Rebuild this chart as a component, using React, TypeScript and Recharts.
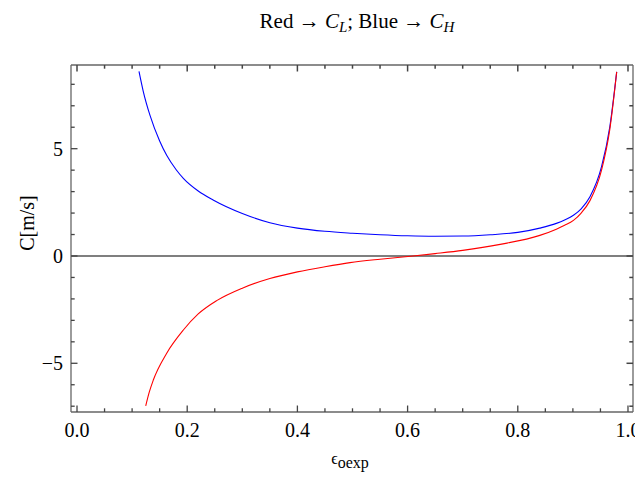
import React from "react";
import { LineChart, Line, XAxis, YAxis, ReferenceLine } from "recharts";

// values
const blueEps = [0.1125, 0.12, 0.1325, 0.15, 0.163, 0.18, 0.193, 0.22, 0.247, 0.3, 0.35, 0.4, 0.45, 0.5, 0.55, 0.6, 0.65, 0.7, 0.75, 0.8, 0.84, 0.87, 0.885, 0.901, 0.915, 0.931, 0.952, 0.967, 0.9795];
const blueC = [8.6, 7.7, 6.55, 5.36, 4.68, 4.02, 3.62, 3.03, 2.61, 1.98, 1.55, 1.3, 1.15, 1.06, 0.99, 0.94, 0.92, 0.93, 0.99, 1.1, 1.3, 1.52, 1.68, 1.9, 2.2, 2.76, 4.16, 6.02, 8.58];

const redEps = [0.1247, 0.131, 0.1385, 0.1628, 0.193, 0.22, 0.2535, 0.3, 0.35, 0.4, 0.45, 0.4955, 0.55, 0.61, 0.65, 0.7, 0.768, 0.84, 0.87, 0.885, 0.901, 0.915, 0.931, 0.952, 0.967, 0.9795];
const redC = [-6.99, -6.36, -5.78, -4.53, -3.45, -2.7, -2.08, -1.5, -1.05, -0.74, -0.5, -0.31, -0.15, 0.0, 0.11, 0.26, 0.54, 0.96, 1.25, 1.43, 1.66, 2.0, 2.58, 4.0, 5.9, 8.58];

const xTicks = [0, 0.05, 0.1, 0.15, 0.2, 0.25, 0.3, 0.35, 0.4, 0.45, 0.5, 0.55, 0.6, 0.65, 0.7, 0.75, 0.8, 0.85, 0.9, 0.95, 1];
const xMajor = [0, 0.2, 0.4, 0.6, 0.8, 1];
const yTicks = [-7, -6, -5, -4, -3, -2, -1, 0, 1, 2, 3, 4, 5, 6, 7, 8];
const yMajor = [-5, 0, 5];

const blueData = blueEps.map((e, i) => ({ eps: e, c: blueC[i] }));
const redData = redEps.map((e, i) => ({ eps: e, c: redC[i] }));

const W = 635;
const H = 477;
const M = { top: 64, right: 1, bottom: 0, left: 0 };
const X_AXIS_H = 65;
const Y_AXIS_W = 71;
// plot box size, used to mirror the frame ticks onto the top and right edges
const PLOT_H = H - M.top - 1 - X_AXIS_H;
const PLOT_W = W - Y_AXIS_W - M.right - 1;

const FRAME = "#666";
const TICK = "#444";
const FONT = "'Liberation Serif', 'Times New Roman', serif";
const MAJ = 6.5;
const MIN = 3.7;

const isMajor = (list: number[], v: number) => list.some((m) => Math.abs(m - v) < 1e-6);

function BottomTick(props: any) {
  const { x, y, payload } = props;
  const major = isMajor(xMajor, payload.value);
  const len = major ? MAJ : MIN;
  const top = Number(y) - PLOT_H;
  return (
    <g>
      <path d={`M${x},${y}V${Number(y) - len}`} stroke={TICK} strokeWidth={1.3} />
      <path d={`M${x},${top}V${top + len}`} stroke={TICK} strokeWidth={1.5} />
      {major && (
        <text x={x} y={Number(y) + 25} textAnchor="middle" fontFamily={FONT} fontSize={20} fill="#000">
          {payload.value.toFixed(1)}
        </text>
      )}
    </g>
  );
}

function LeftTick(props: any) {
  const { x, y, payload } = props;
  const major = isMajor(yMajor, payload.value);
  const len = major ? MAJ : MIN;
  const right = Number(x) + PLOT_W;
  const label = payload.value < 0 ? "\u2212" + Math.abs(payload.value) : String(payload.value);
  return (
    <g>
      <path d={`M${x},${y}H${Number(x) + len}`} stroke={TICK} strokeWidth={1.3} />
      <path d={`M${right},${y}H${right - len}`} stroke={TICK} strokeWidth={1.5} />
      {major && (
        <text x={Number(x) - 8} y={Number(y) + 7} textAnchor="end" fontFamily={FONT} fontSize={20} fill="#000">
          {label}
        </text>
      )}
    </g>
  );
}

export default function App() {
  const xDomain = [-0.0109, 1.0091];
  const yDomain = [-7.27, 8.9];
  const axisLine = { stroke: FRAME, strokeWidth: 1.3 };
  return (
    <div style={{ position: "absolute", left: 0, top: 0, width: W, height: H, background: "#fff" }}>
      <LineChart width={W} height={H} margin={M}>
        <XAxis
          xAxisId="b"
          type="number"
          dataKey="eps"
          domain={xDomain}
          ticks={xTicks}
          interval={0}
          allowDataOverflow
          height={X_AXIS_H}
          tickSize={0}
          tickMargin={0}
          tickLine={false}
          axisLine={axisLine}
          tick={<BottomTick />}
        />
        <XAxis
          xAxisId="t"
          orientation="top"
          type="number"
          dataKey="eps"
          domain={xDomain}
          allowDataOverflow
          height={1}
          tickLine={false}
          axisLine={axisLine}
          tick={false}
        />
        <YAxis
          yAxisId="l"
          type="number"
          domain={yDomain}
          ticks={yTicks}
          interval={0}
          allowDataOverflow
          width={Y_AXIS_W}
          tickSize={0}
          tickMargin={0}
          tickLine={false}
          axisLine={axisLine}
          tick={<LeftTick />}
        />
        <YAxis
          yAxisId="r"
          orientation="right"
          type="number"
          domain={yDomain}
          allowDataOverflow
          width={1}
          tickLine={false}
          axisLine={axisLine}
          tick={false}
        />
        <ReferenceLine xAxisId="b" yAxisId="l" y={0} stroke="#555" strokeWidth={1.6} />
        {/* invisible series so the top and right frame axes get drawn */}
        <Line
          xAxisId="t"
          yAxisId="r"
          data={redData}
          dataKey="c"
          stroke="none"
          dot={false}
          activeDot={false}
          isAnimationActive={false}
        />
        <Line
          xAxisId="b"
          yAxisId="l"
          data={blueData}
          dataKey="c"
          type="monotone"
          stroke="#0000ff"
          strokeWidth={1.1}
          dot={false}
          isAnimationActive={false}
        />
        <Line
          xAxisId="b"
          yAxisId="l"
          data={redData}
          dataKey="c"
          type="monotone"
          stroke="#ff0000"
          strokeWidth={1.1}
          dot={false}
          isAnimationActive={false}
        />
      </LineChart>
      <svg
        width={W}
        height={H}
        style={{ position: "absolute", left: 0, top: 0, pointerEvents: "none" }}
        fontFamily={FONT}
      >
        <text x={357} y={28} textAnchor="middle" fontSize={21} fill="#000">
          <tspan>Red → </tspan>
          <tspan fontStyle="italic">C</tspan>
          <tspan fontStyle="italic" fontSize={15} dy={4}>L</tspan>
          <tspan dy={-4}>; Blue → </tspan>
          <tspan fontStyle="italic">C</tspan>
          <tspan fontStyle="italic" fontSize={15} dy={4}>H</tspan>
        </text>
        <text x={350} y={464} textAnchor="middle" fontSize={18} fill="#000">
          <tspan fontSize={16}>ϵ</tspan>
          <tspan fontSize={16} dy={4}>oexp</tspan>
        </text>
        <text
          x={0}
          y={0}
          transform="translate(34,223) rotate(-90)"
          textAnchor="middle"
          fontSize={20}
          fill="#000"
        >
          C[m/s]
        </text>
      </svg>
    </div>
  );
}
